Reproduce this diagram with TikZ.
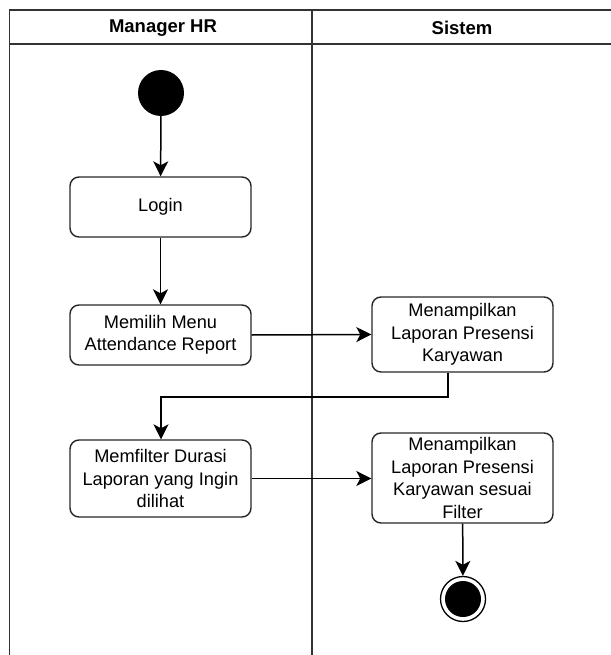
\documentclass[tikz,border=0pt]{standalone}
\usepackage{fontspec}
\setmainfont{Liberation Sans}
\usetikzlibrary{arrows.meta}
\definecolor{lane}{HTML}{333333}
\begin{document}
\begin{tikzpicture}[x=1pt,y=-1pt,
  lanestyle/.style={draw=lane,line width=1.7pt},
  act/.style={draw=black!85,line width=1.4pt,rounded corners=9pt,align=center,
    font=\fontsize{18.2}{22.5}\selectfont,inner sep=0pt},
  flow/.style={draw=black,line width=1.5pt,-{Stealth[length=15pt,width=15pt,inset=4pt]}},
  hdr/.style={font=\fontsize{18.5}{20}\selectfont\bfseries}]
\useasboundingbox (0,0) rectangle (610,655);
% swimlanes
\draw[lanestyle] (9.5,655) -- (9.5,10) -- (612,10);
\draw[lanestyle] (9.5,44) -- (612,44);
\draw[lanestyle] (312,10) -- (312,655);
\node[hdr] (h1) at (163,28) {Manager HR};
\node[hdr] (h2) at (462,28) {Sistem};
% nodes
\node[circle,fill=black,minimum size=46pt,inner sep=0pt] (start) at (161,93) {};
\node[act,minimum width=181pt,minimum height=60pt] (login) at (160.5,207) {Login};
\node[act,minimum width=181pt,minimum height=60pt] (menu) at (160.5,335) {Memilih Menu\\Attendance Report};
\node[act,minimum width=181pt,minimum height=75pt] (lap1) at (462.5,334.5) {Menampilkan\\Laporan Presensi\\Karyawan};
\node[act,minimum width=181pt,minimum height=77pt] (filt) at (160.5,478.5) {Memfilter Durasi\\Laporan yang Ingin\\dilihat};
\node[act,minimum width=181pt,minimum height=90pt] (lap2) at (462.5,478) {Menampilkan\\Laporan Presensi\\Karyawan sesuai\\Filter};
\node[circle,draw=black,line width=1.3pt,minimum size=45pt,inner sep=0pt] (end) at (463,599) {};
\node[circle,fill=black,minimum size=36pt,inner sep=0pt] at (end) {};
\coordinate (c1) at (448,397);
\coordinate (c2) at (161,397);
% connectors
\draw[flow] (start) -- (login);
\draw[flow] (login) -- (menu);
\draw[flow] (menu.east) -- (lap1.west);
\draw[flow] (lap1.south -| c1) -- (c1) -- (c2) -- (c2 |- filt.north);
\draw[flow] (filt.east) -- (filt.east -| lap2.west);
\draw[flow] (lap2) -- (end);
\end{tikzpicture}
\end{document}
